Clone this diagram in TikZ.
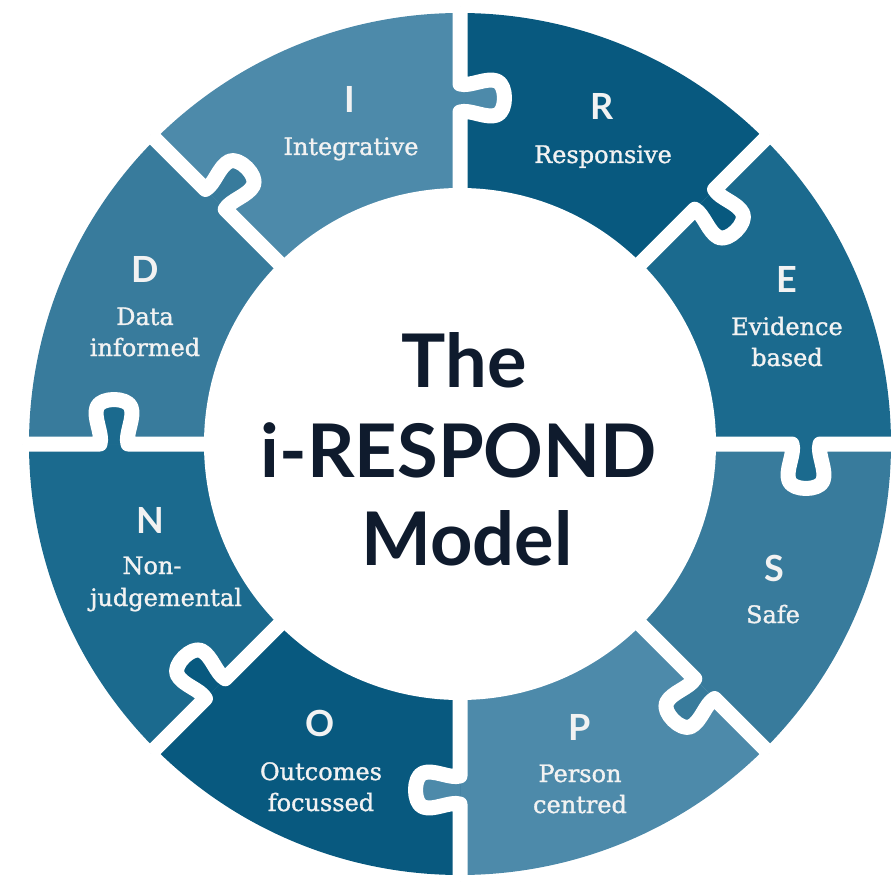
\documentclass[tikz,border=0pt]{standalone}
\usepackage{fontspec}
\setmainfont{DejaVu Serif}
\newfontfamily\headfont{Lato}
\newfontfamily\wordfont[FakeBold=1.3]{DejaVu Serif}
\usepackage{tikz}
\definecolor{segLight}{HTML}{4D8AAA}
\definecolor{segDark}{HTML}{08597F}
\definecolor{segDeep}{HTML}{1B6A8E}
\definecolor{segMid}{HTML}{387B9C}
\definecolor{titleInk}{HTML}{0F1B2D}
\definecolor{labelInk}{HTML}{F2F2F2}
\tikzset{
  cut/.style={draw=white, line width=15pt, line join=round},
  segletter/.style={text=labelInk, font=\headfont\bfseries\fontsize{36}{36}\selectfont,
    anchor=base, inner sep=0pt},
  segword/.style={text=labelInk, font=\wordfont\fontsize{24}{24}\selectfont, anchor=base, inner sep=0pt},
  title/.style={text=titleInk, font=\headfont\bfseries\fontsize{74}{74}\selectfont,
    anchor=base, inner sep=0pt},
  }
\newcommand{\ringout}{431}
\newcommand{\ringin}{256}
\newcommand{\knobat}{346}

\begin{document}
\begin{tikzpicture}[x=1pt,y=1pt]
  \useasboundingbox (-460,-437) rectangle (431,444);

  % Segments
  \foreach \a/\col in {90/segLight, 45/segDark, 0/segDeep, -45/segMid,
                       -90/segLight, -135/segDark, 180/segDeep, 135/segMid}
    \fill[\col] (0,0) -- (\a:\ringout) arc[start angle=\a, delta angle=45, radius=\ringout] -- cycle;

  % Tabs and cuts
  \foreach \a/\col in {90/segLight, 45/segDark, 0/segDeep, -45/segMid,
                       -90/segLight, -135/segDark, 180/segDeep, 135/segMid}
    \filldraw[cut, fill=\col, rotate=\a] (\ringout+6,0) -- (\knobat+14,0)
      .. controls (\knobat+11,-10) and (\knobat+21,-26) .. (\knobat+17,-37)
      .. controls (\knobat+13,-47) and (\knobat-13,-47) .. (\knobat-17,-37)
      .. controls (\knobat-21,-26) and (\knobat-11,-10) .. (\knobat-14,0)
      -- (\ringin-6,0);

  % Hub
  \fill[white] (0,0) circle (\ringin);
  \node[title] (tThe) at (4,57) {The};
  \node[title] (tName) at (-1,-33) {i-RESPOND};
  \node[title] (tModel) at (7,-121) {Model};

  % Letters
  \node[segletter] (lI) at (-110,331) {I};
  \node[segletter] (lR) at (142,324) {R};
  \node[segletter] (lE) at (327,151) {E};
  \node[segletter] (lS) at (314,-137) {S};
  \node[segletter] (lP) at (120,-296) {P};
  \node[segletter] (lO) at (-140,-292) {O};
  \node[segletter] (lN) at (-310,-89) {N};
  \node[segletter] (lD) at (-315,161) {D};

  % Words
  \node[segword] (wI) at (-109,289) {Integrative};
  \node[segword] (wR) at (143,281) {Responsive};
  \node[segword] (wE1) at (327,109) {Evidence};
  \node[segword] (wE2) at (327,78) {based};
  \node[segword] (wS) at (313,-179) {Safe};
  \node[segword] (wP1) at (120,-338) {Person};
  \node[segword] (wP2) at (120,-369) {centred};
  \node[segword] (wO1) at (-139,-336) {Outcomes};
  \node[segword] (wO2) at (-139,-367) {focussed};
  \node[segword] (wN1) at (-308,-130) {Non-};
  \node[segword] (wN2) at (-294,-162) {judgemental};
  \node[segword] (wD1) at (-315,119) {Data};
  \node[segword] (wD2) at (-315,88) {informed};
\end{tikzpicture}
\end{document}
